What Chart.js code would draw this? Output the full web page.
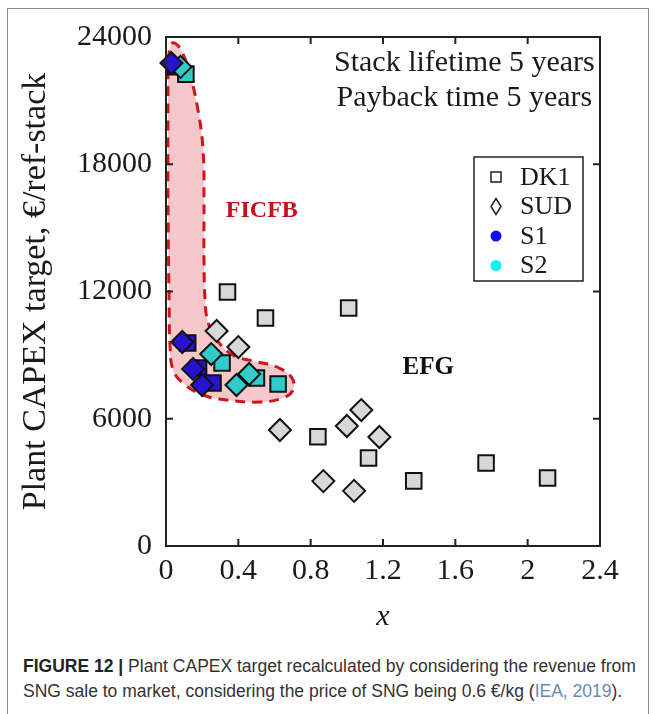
<!DOCTYPE html>
<html>
<head>
<meta charset="utf-8">
<script src="https://cdn.jsdelivr.net/npm/chart.js@4.4.0/dist/chart.umd.min.js"></script>
<style>
  html, body { margin: 0; padding: 0; background: #fff; }
  body { width: 655px; height: 714px; position: relative; overflow: hidden; }
  #frame { position: absolute; left: 7px; top: 8px; width: 640px; height: 720px;
           border: 1.5px solid #8a8a8a; border-bottom: none; }
  #c { position: absolute; left: 0; top: 0; }
  #caption { position: absolute; left: 23px; top: 654px; white-space: nowrap;
             font: 17.5px 'Liberation Sans', Arial, sans-serif; color: #333; line-height: 25px; }
  #caption b { color: #222; }
  #caption span { color: #6a8bb0; }
</style>
</head>
<body>
<div id="frame"></div>
<canvas id="c" width="655" height="640"></canvas>
<div id="caption"><b>FIGURE 12 |</b> Plant CAPEX target recalculated by considering the revenue from<br>SNG sale to market, considering the price of SNG being 0.6 €/kg (<span>IEA, 2019</span>).</div>
<script>
// axis ticks
const xTicks = [0, 0.4, 0.8, 1.2, 1.6, 2, 2.4];
const yTicks = [0, 6000, 12000, 18000, 24000];

// EFG cases (grey markers)
const dk1Efg = [[0.34, 11980], [0.55, 10750], [1.01, 11220], [0.84, 5150], [1.12, 4150], [1.37, 3070], [1.77, 3910], [2.11, 3210]];
const sudEfg = [[0.28, 10140], [0.40, 9380], [0.63, 5470], [0.87, 3060], [1.00, 5660], [1.08, 6410], [1.04, 2600], [1.18, 5140]];

// FICFB cases, S1 (blue) and S2 (cyan)
const dk1S1 = [[0.05, 22600], [0.12, 9570], [0.18, 8390], [0.26, 7690]];
const sudS1 = [[0.03, 22770], [0.09, 9620], [0.15, 8350], [0.20, 7590]];
const dk1S2 = [[0.11, 22250], [0.31, 8630], [0.50, 7920], [0.62, 7640]];
const sudS2 = [[0.08, 22590], [0.25, 9050], [0.39, 7590], [0.46, 8110]];

// dashed FICFB region
const ficfbOutline = [
  [0.011, 22900], [0.033, 23700], [0.077, 23480], [0.133, 22200], [0.177, 20550], [0.205, 18670],
  [0.210, 16300], [0.210, 13480], [0.216, 11600], [0.232, 10560], [0.282, 9710], [0.371, 9000],
  [0.503, 8680], [0.614, 8440], [0.697, 7920], [0.702, 7350], [0.647, 6980], [0.520, 6790],
  [0.337, 6880], [0.205, 7120], [0.094, 7680], [0.039, 8300], [0.022, 9480], [0.017, 11600],
  [0.011, 16300], [0.011, 21000], [0.011, 22900]
];

const legendLabels = ['DK1', 'SUD', 'S1', 'S2'];
const notes = [
  { text: 'Stack lifetime 5 years', x: 1.65, y: 22770, bold: false, color: '#1a1a1a', size: 30 },
  { text: 'Payback time 5 years', x: 1.65, y: 21120, bold: false, color: '#1a1a1a', size: 30 },
  { text: 'FICFB', x: 0.53, y: 15800, bold: true, color: '#c0141c', size: 24 },
  { text: 'EFG', x: 1.45, y: 8400, bold: true, color: '#111', size: 25 }
];

const serif = "'Liberation Serif', 'Times New Roman', serif";
const ink = '#1a1a1a';
const grey = '#d8d8d8', blue = '#2812d2', cyan = '#30cccc';

const toPts = a => a.map(([x, y]) => ({ x, y }));
function markers(label, pts, style, fill, order) {
  return {
    label, data: toPts(pts), showLine: false, pointStyle: style,
    pointRadius: 11, pointHoverRadius: 11, pointBackgroundColor: fill,
    pointBorderColor: '#111', pointBorderWidth: 2, order, clip: false
  };
}

const framePlugin = {
  id: 'frame',
  afterDatasetsDraw(chart) {
    const { ctx, chartArea: a, scales: { x, y } } = chart;
    ctx.save();
    ctx.strokeStyle = '#222';
    ctx.lineWidth = 2;
    ctx.strokeRect(a.left, a.top, a.right - a.left, a.bottom - a.top);
    ctx.beginPath();
    xTicks.forEach(v => {
      const px = x.getPixelForValue(v);
      ctx.moveTo(px, a.bottom); ctx.lineTo(px, a.bottom - 7);
      ctx.moveTo(px, a.top); ctx.lineTo(px, a.top + 7);
    });
    yTicks.forEach(v => {
      const py = y.getPixelForValue(v);
      ctx.moveTo(a.left, py); ctx.lineTo(a.left + 7, py);
      ctx.moveTo(a.right, py); ctx.lineTo(a.right - 7, py);
    });
    ctx.stroke();

    // text notes
    ctx.textAlign = 'center';
    ctx.textBaseline = 'middle';
    notes.forEach(n => {
      ctx.font = (n.bold ? 'bold ' : '') + n.size + 'px ' + serif;
      ctx.fillStyle = n.color;
      ctx.fillText(n.text, x.getPixelForValue(n.x), y.getPixelForValue(n.y));
    });

    // legend box
    const lx = 474, ly = 157, lw = 109, lh = 124;
    ctx.fillStyle = '#fff';
    ctx.fillRect(lx, ly, lw, lh);
    ctx.lineWidth = 1.5;
    ctx.strokeStyle = '#222';
    ctx.strokeRect(lx, ly, lw, lh);
    ctx.textAlign = 'left';
    ctx.font = '26px ' + serif;
    legendLabels.forEach((lab, i) => {
      const cy = ly + 20 + i * 29.5, mx = lx + 22;
      ctx.beginPath();
      if (i === 0) {
        ctx.rect(mx - 5, cy - 5, 10, 10);
        ctx.fillStyle = '#fff'; ctx.fill(); ctx.stroke();
      } else if (i === 1) {
        ctx.moveTo(mx, cy - 8); ctx.lineTo(mx + 5, cy); ctx.lineTo(mx, cy + 8); ctx.lineTo(mx - 5, cy); ctx.closePath();
        ctx.fillStyle = '#fff'; ctx.fill(); ctx.stroke();
      } else {
        ctx.arc(mx, cy, 5.5, 0, Math.PI * 2);
        ctx.fillStyle = i === 2 ? '#1010ee' : '#10f0f0'; ctx.fill();
      }
      ctx.fillStyle = ink;
      ctx.fillText(lab, lx + 46, cy + 1);
    });
    ctx.restore();
  }
};

new Chart(document.getElementById('c'), {
  type: 'line',
  data: {
    datasets: [
      markers('SUD S1', sudS1, 'rectRot', blue, 1),
      markers('SUD S2', sudS2, 'rectRot', cyan, 1),
      markers('SUD', sudEfg, 'rectRot', grey, 2),
      markers('DK1 S1', dk1S1, 'rect', blue, 3),
      markers('DK1 S2', dk1S2, 'rect', cyan, 3),
      markers('DK1', dk1Efg, 'rect', grey, 3),
      {
        label: 'FICFB', data: toPts(ficfbOutline), fill: 'shape',
        backgroundColor: '#f4c8c8', borderColor: '#d0141e', borderWidth: 3,
        borderDash: [10, 7], tension: 0.4, pointRadius: 0, order: 10
      }
    ]
  },
  options: {
    responsive: false,
    animation: false,
    layout: { padding: { top: 37, right: 55, left: 0, bottom: 0 } },
    plugins: { legend: { display: false }, tooltip: { enabled: false } },
    scales: {
      x: {
        type: 'linear', min: 0, max: 2.4,
        afterBuildTicks: s => { s.ticks = xTicks.map(v => ({ value: v })); },
        afterFit: s => { s.height = 94; },
        grid: { display: false, drawTicks: false },
        border: { display: false },
        ticks: { color: ink, font: { family: serif, size: 30 }, padding: 7, maxRotation: 0, callback: v => String(v) },
        title: { display: true, text: 'x', color: ink, font: { family: serif, size: 30, style: 'italic' }, padding: { top: 0, bottom: 5 } }
      },
      y: {
        min: 0, max: 24000,
        afterBuildTicks: s => { s.ticks = yTicks.map(v => ({ value: v })); },
        afterFit: s => { s.width = 166; },
        grid: { display: false, drawTicks: false },
        border: { display: false },
        ticks: { color: ink, font: { family: serif, size: 30 }, padding: 14, callback: v => String(v) },
        title: { display: true, text: 'Plant CAPEX target, €/ref-stack', color: ink, font: { family: serif, size: 34 }, padding: { top: 16, bottom: 0 } }
      }
    }
  },
  plugins: [framePlugin]
});
</script>
</body>
</html>
